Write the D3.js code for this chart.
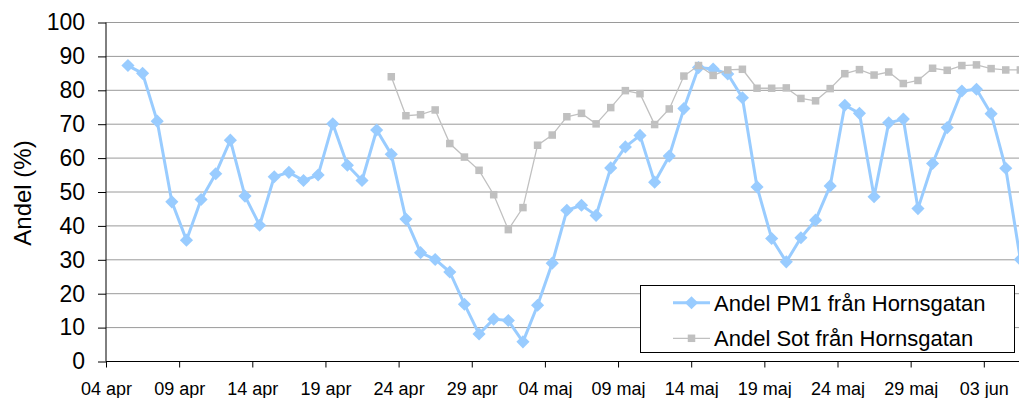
<!DOCTYPE html>
<html>
<head>
<meta charset="utf-8">
<script src="https://cdn.jsdelivr.net/npm/d3@7"></script>
<style>
  body { margin: 0; background: #fff; }
  svg { display: block; font-family: "Liberation Sans", Arial, sans-serif; }
</style>
</head>
<body>
<svg id="chart" width="1019" height="398"></svg>
<script>
// daily share values (%), one point per day, plotted at noon
var pm1Start = "2006-04-05";
var pm1Values = [87.3, 85.0, 70.9, 47.1, 35.8, 47.8, 55.4, 65.3, 48.8, 40.2,
  54.5, 55.8, 53.4, 55.0, 70.1, 57.9, 53.4, 68.3, 61.1, 42.0,
  32.1, 30.1, 26.4, 16.9, 8.1, 12.5, 12.1, 5.8, 16.6, 29.0,
  44.6, 46.1, 43.1, 57.1, 63.3, 66.7, 52.9, 60.6, 74.6, 86.7,
  86.3, 84.8, 77.8, 51.5, 36.3, 29.4, 36.5, 41.7, 51.8, 75.6,
  73.2, 48.6, 70.4, 71.5, 45.1, 58.4, 69.0, 79.8, 80.3, 73.1,
  57.0, 30.1];

var sotStart = "2006-04-23";
var sotValues = [84.0, 72.5, 72.8, 74.2, 64.3, 60.3, 56.4, 49.2, 38.9, 45.4,
  63.8, 66.8, 72.2, 73.2, 70.1, 74.9, 79.9, 79.0, 69.9, 74.5,
  84.2, 87.3, 84.4, 86.0, 86.2, 80.6, 80.6, 80.7, 77.6, 76.9,
  80.5, 84.9, 86.1, 84.5, 85.4, 82.0, 82.9, 86.5, 85.9, 87.3,
  87.5, 86.4, 86.0, 86.0];

var seriesNames = ["Andel PM1 från Hornsgatan", "Andel Sot från Hornsgatan"];
var tickDates = ["2006-04-04", "2006-04-09", "2006-04-14", "2006-04-19", "2006-04-24",
  "2006-04-29", "2006-05-04", "2006-05-09", "2006-05-14", "2006-05-19",
  "2006-05-24", "2006-05-29", "2006-06-03"];
var monthNames = ["jan", "feb", "mar", "apr", "maj", "jun", "jul", "aug", "sep", "okt", "nov", "dec"];
var yTicks = [0, 10, 20, 30, 40, 50, 60, 70, 80, 90, 100];

var parse = d3.timeParse("%Y-%m-%d");

function toPoints(start, values) {
  var s = parse(start);
  return values.map(function(v, i) {
    return { date: d3.timeHour.offset(d3.timeDay.offset(s, i), 12), value: v };
  });
}
var pm1 = toPoints(pm1Start, pm1Values);
var sot = toPoints(sotStart, sotValues);

var svg = d3.select("#chart");
var plotLeft = 106, plotTop = 22.5, plotBottom = 361.5, dayW = 14.63;

var x = d3.scaleTime()
  .domain([parse("2006-04-04"), parse("2006-06-06")])
  .range([plotLeft, plotLeft + 63 * dayW]);
var y = d3.scaleLinear().domain([0, 100]).range([plotBottom, plotTop]);

// grid
svg.append("g").selectAll("line")
  .data(yTicks.filter(function(d) { return d > 0; }))
  .enter().append("line")
  .attr("x1", plotLeft).attr("x2", 1019)
  .attr("y1", function(d) { return y(d); })
  .attr("y2", function(d) { return y(d); })
  .attr("stroke", "#9a9a9a").attr("stroke-width", 1);

// axes
var yAxis = d3.axisLeft(y).tickValues(yTicks).tickSize(8).tickPadding(13);
var gy = svg.append("g").attr("transform", "translate(" + plotLeft + ",0)").call(yAxis);
gy.selectAll("text").style("font-size", "23px").attr("fill", "#000");

var fmt = function(d) { return d3.timeFormat("%d")(d) + " " + monthNames[d.getMonth()]; };
var xAxis = d3.axisBottom(x).tickValues(tickDates.map(parse)).tickFormat(fmt)
  .tickSize(6).tickPadding(14.5);
var gx = svg.append("g").attr("transform", "translate(0," + plotBottom + ")").call(xAxis);
gx.selectAll("text").style("font-size", "18px").attr("fill", "#000");

svg.selectAll(".domain").attr("stroke", "#000");
svg.selectAll(".tick line").attr("stroke", "#000");
gy.select(".domain").attr("d", "M0," + plotBottom + "V" + plotTop);
gx.select(".domain").attr("d", "M" + plotLeft + ",0H1019");

svg.append("text")
  .attr("transform", "translate(31,193) rotate(-90)")
  .attr("text-anchor", "middle")
  .style("font-size", "24px")
  .text("Andel (%)");

var line = d3.line()
  .x(function(d) { return x(d.date); })
  .y(function(d) { return y(d.value); });

var diamond = d3.symbol().type(d3.symbolDiamond2).size(110);
var square = d3.symbol().type(d3.symbolSquare2).size(72);

// PM1 series
svg.append("path").datum(pm1)
  .attr("d", line).attr("fill", "none")
  .attr("stroke", "#99ccff").attr("stroke-width", 3).attr("stroke-linejoin", "round");
svg.append("g").selectAll("path").data(pm1).enter().append("path")
  .attr("d", diamond)
  .attr("transform", function(d) { return "translate(" + x(d.date) + "," + y(d.value) + ")"; })
  .attr("fill", "#99ccff");

// Sot series
svg.append("path").datum(sot)
  .attr("d", line).attr("fill", "none")
  .attr("stroke", "#c0c0c0").attr("stroke-width", 1.3);
svg.append("g").selectAll("path").data(sot).enter().append("path")
  .attr("d", square)
  .attr("transform", function(d) { return "translate(" + x(d.date) + "," + y(d.value) + ")"; })
  .attr("fill", "#c0c0c0");

// legend
var lg = svg.append("g");
lg.append("rect")
  .attr("x", 640.5).attr("y", 285.5).attr("width", 374).attr("height", 67)
  .attr("fill", "#fff").attr("stroke", "#000").attr("stroke-width", 1);
var legendY = [302.7, 338.3];
seriesNames.forEach(function(name, i) {
  var ly = legendY[i];
  lg.append("line").attr("x1", 673).attr("x2", 710).attr("y1", ly).attr("y2", ly)
    .attr("stroke", i === 0 ? "#99ccff" : "#c0c0c0")
    .attr("stroke-width", i === 0 ? 3 : 1.3);
  lg.append("path").attr("d", i === 0 ? diamond : square)
    .attr("transform", "translate(691.5," + ly + ")")
    .attr("fill", i === 0 ? "#99ccff" : "#c0c0c0");
  lg.append("text").attr("x", 714).attr("y", ly).attr("dy", "0.36em")
    .style("font-size", "22px").text(name);
});
</script>
</body>
</html>
